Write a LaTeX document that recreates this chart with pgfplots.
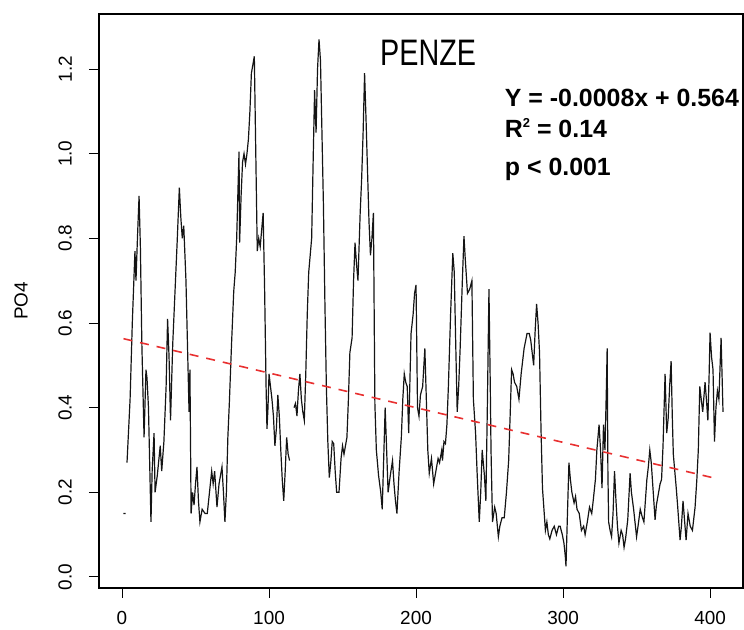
\documentclass[border=0pt]{standalone}
\usepackage{fontspec}
\setmainfont{Liberation Sans}
\usepackage{graphicx}
\usepackage{pgfplots}
\pgfplotsset{compat=1.18}
\definecolor{trend}{RGB}{232,48,48}
\definecolor{series}{RGB}{20,20,20}
\begin{document}
\begin{tikzpicture}
\useasboundingbox (-99bp,-42bp) rectangle (645bp,588bp);
\begin{axis}[
  at={(0,0)}, anchor=south west,
  width=644bp, height=574bp, scale only axis,
  xmin=-15.65, xmax=422.4, ymin=-0.026, ymax=1.330,
  axis line style={line width=1.3bp},
  xtick={0,100,200,300,400},
  ytick={0,0.2,0.4,0.6,0.8,1.0,1.2},
  xtick pos=bottom, ytick pos=left,
  tick align=outside, major tick length=10bp,
  tick style={line width=1bp, black},
  /pgf/number format/assume math mode=true,
  tick label style={font=\fontsize{19}{19}\selectfont, inner sep=0pt},
  y tick label style={rotate=90, anchor=south,
    /pgf/number format/.cd, fixed, fixed zerofill, precision=1, /tikz/.cd},
  x tick label style={anchor=north},
  xticklabel shift=13bp, yticklabel shift=17bp,
  ylabel={PO4},
  every axis y label/.style={at={(axis description cs:-0.121,0.5)}, rotate=90,
    anchor=center, font=\fontsize{19}{19}\selectfont},
  unbounded coords=jump,
]
% PO4 series
\addplot[series, line width=1.2bp] coordinates {
(1,0.15)(2.5,0.15)(2.8,nan)
(3.4,0.27)(5.5,0.42)(7,0.60)(8.8,0.77)(9.5,0.70)(10.5,0.80)(11.6,0.90)(12.5,0.78)
(13.5,0.55)(15,0.33)(16.3,0.49)(17,0.47)(18,0.40)(19.7,0.13)(20.5,0.25)(21.8,0.34)
(22.5,0.20)(24,0.24)(26,0.31)(27,0.25)(28.5,0.32)(30,0.45)(31,0.61)(32,0.52)
(33,0.37)(34.5,0.55)(36,0.67)(37.5,0.79)(39,0.92)(40,0.85)(41,0.80)(42,0.83)
(43.5,0.70)(45,0.48)(45.6,0.39)(46.2,0.49)(47,0.15)(48,0.20)(49,0.17)(50,0.22)
(51,0.26)(52,0.18)(53,0.13)(54.5,0.16)(56.5,0.15)(58,0.15)(59.5,0.20)(61,0.25)
(62,0.22)(63,0.25)(64.6,0.165)(66,0.22)(68,0.26)(69,0.20)(70,0.13)(71,0.20)
(72,0.33)(73,0.41)(74.5,0.55)(76,0.675)(77,0.72)(78,0.80)(79,0.93)(79.6,1.005)
(80,0.79)(81,0.90)(82,0.98)(83,1.00)(84,0.975)(85,1.00)(86,1.035)(87,1.10)
(88,1.19)(89,1.21)(90,1.23)(91,1.00)(92,0.77)(93,0.80)(94,0.78)(95,0.82)
(96,0.86)(97,0.68)(98,0.45)(98.6,0.35)(99.3,0.40)(100,0.48)(101,0.45)(102,0.42)
(103,0.38)(104,0.31)(105,0.35)(106,0.43)(107,0.38)(108,0.30)(109,0.23)(110,0.18)
(111,0.25)(112,0.33)(113,0.29)(114,0.275)(115,nan)
(117,0.40)(118,0.41)(119,0.38)(120,0.44)(121,0.48)(122,0.42)(123,0.39)(124,0.37)
(125,0.48)(126,0.62)(127,0.72)(128,0.76)(129,0.80)(130,0.98)(131,1.15)(132,1.05)
(133,1.20)(134,1.27)(135,1.22)(136,1.05)(137,0.88)(138,0.65)(139,0.45)(140,0.32)
(141,0.235)(142,0.27)(143,0.32)(144,0.315)(145,0.25)(146,0.20)(147.6,0.20)(149,0.28)
(150,0.31)(151,0.29)(153,0.33)(154,0.42)(155,0.53)(156.5,0.565)(157.5,0.70)(158.5,0.79)
(159.5,0.74)(160.5,0.70)(162,0.86)(163,0.94)(164,1.05)(165,1.19)(166,1.08)(167,0.96)
(168,0.84)(169,0.76)(170,0.80)(171,0.86)(172,0.41)(173,0.30)(174.5,0.24)(176,0.20)
(177,0.16)(178,0.28)(179,0.40)(180,0.30)(181,0.20)(182.5,0.24)(184,0.275)(185,0.22)
(186,0.18)(187,0.15)(188.5,0.25)(190,0.33)(191,0.42)(192,0.48)(193,0.46)(194,0.45)
(195,0.34)(196.6,0.575)(198,0.62)(199,0.67)(200,0.69)(201,0.40)(202,0.38)(203,0.43)
(204.5,0.45)(206,0.54)(207,0.42)(208,0.30)(209,0.245)(210.5,0.28)(212,0.22)(213.5,0.25)
(215,0.28)(216,0.27)(217.5,0.30)(218,0.275)(219,0.32)(220,0.315)(221,0.36)(222,0.45)
(223.5,0.62)(225,0.765)(226,0.72)(227,0.55)(228,0.39)(229,0.45)(230,0.54)(231.5,0.70)
(232.6,0.805)(233.5,0.75)(235,0.67)(236.5,0.68)(238,0.70)(239,0.42)(240.5,0.34)(241.5,0.25)
(243,0.13)(244,0.20)(245,0.30)(246.5,0.24)(247.5,0.18)(248.5,0.40)(249.6,0.68)(250.5,0.45)
(251,0.30)(252,0.13)(253.5,0.165)(254.5,0.15)(256,0.095)(257,0.12)(258.5,0.14)(260,0.14)
(261.5,0.20)(263,0.275)(264,0.38)(265,0.49)(266,0.48)(267,0.46)(268.5,0.45)(270,0.42)
(271.5,0.48)(273.5,0.54)(275.5,0.575)(277,0.575)(278,0.56)(279,0.53)(280,0.50)(281,0.58)
(282,0.645)(283,0.60)(284,0.53)(285,0.35)(286,0.21)(287,0.16)(288,0.11)(289,0.13)
(290,0.10)(291,0.09)(292.5,0.11)(294,0.12)(295.5,0.10)(297,0.12)(298,0.12)(299.5,0.10)
(300.6,0.08)(301.5,0.05)(302,0.025)(303,0.15)(304,0.27)(305,0.23)(306,0.20)(307.5,0.175)
(308.5,0.19)(309.5,0.16)(311,0.15)(312.5,0.11)(314,0.12)(315,0.10)(316.5,0.13)(318,0.165)
(319.5,0.15)(320.5,0.18)(322,0.23)(323,0.30)(324.5,0.36)(325.5,0.30)(326.5,0.21)(327.5,0.36)
(328.5,0.30)(329.5,0.45)(330,0.54)(330.5,0.25)(331,0.13)(332,0.11)(333,0.095)(334,0.15)
(335,0.25)(336,0.18)(337,0.12)(338,0.08)(339.5,0.11)(340.5,0.10)(341.5,0.07)(342.5,0.09)
(344,0.135)(345.6,0.245)(346.5,0.20)(348,0.16)(350,0.095)(351,0.12)(352.5,0.16)(354,0.14)
(355,0.13)(356,0.18)(357,0.23)(358,0.26)(359,0.30)(360,0.27)(362.6,0.135)(363.5,0.17)
(365,0.20)(366,0.22)(367,0.23)(368,0.31)(369.4,0.48)(370.5,0.34)(371.5,0.375)(372.5,0.45)
(373.5,0.51)(374.3,0.38)(375,0.29)(376,0.25)(377,0.21)(378,0.165)(379.6,0.087)(380.5,0.12)
(381.6,0.18)(382.5,0.14)(383.7,0.087)(385,0.15)(386.5,0.12)(388,0.11)(389.8,0.165)(391,0.23)
(392,0.30)(393,0.45)(394,0.42)(395,0.39)(396.6,0.46)(397.5,0.42)(398.5,0.37)(399.3,0.47)
(400,0.577)(401,0.52)(402,0.49)(403,0.32)(404,0.40)(405,0.44)(406,0.42)(407.5,0.565)
(408.8,0.39)
};
% linear trend
\addplot[trend, line width=1.6bp, dash pattern=on 9bp off 8bp] coordinates {(1,0.563) (405,0.232)};
\node[font=\fontsize{37}{37}\selectfont, anchor=center, inner sep=0pt]
  at (axis description cs:0.511,0.932) {\scalebox{0.78}[1]{PENZE}};
\node[font=\bfseries\fontsize{25}{25}\selectfont, anchor=base west, inner sep=0pt]
  at (axis description cs:0.630,0.838) {Y = -0.0008x + 0.564};
\node[font=\bfseries\fontsize{25}{25}\selectfont, anchor=base west, inner sep=0pt]
  at (axis description cs:0.630,0.784) {R\raisebox{0.42em}{\fontsize{13}{13}\selectfont 2} = 0.14};
\node[font=\bfseries\fontsize{25}{25}\selectfont, anchor=base west, inner sep=0pt]
  at (axis description cs:0.630,0.7195) {p < 0.001};
\end{axis}
\end{tikzpicture}
\end{document}
